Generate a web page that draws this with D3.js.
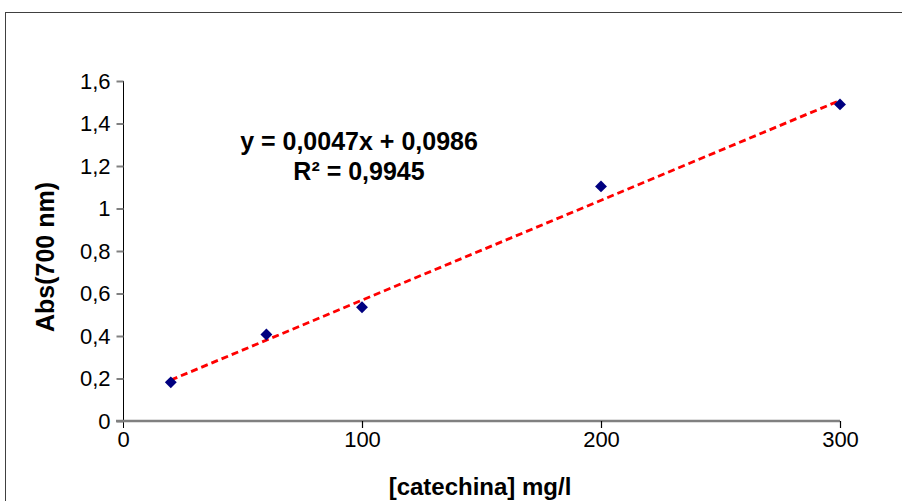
<!DOCTYPE html>
<html><head><meta charset="utf-8">
<script src="https://cdn.jsdelivr.net/npm/d3@7"></script>
<style>body{margin:0;background:#fff}svg{display:block}text{font-family:Arial,"Liberation Sans",sans-serif}</style>
</head><body>
<svg id="c" width="902" height="501"></svg>
<script>
const concentrations = [20, 60, 100, 200, 300];
const absorbances = [0.182, 0.407, 0.535, 1.104, 1.490];
const trendSlope = 0.0047;
const trendIntercept = 0.0986;
const trendRange = [20, 300];
const xTicks = [0, 100, 200, 300];
const yTicks = [0, 0.2, 0.4, 0.6, 0.8, 1, 1.2, 1.4, 1.6];
const equationLines = ["y = 0,0047x + 0,0986", "R² = 0,9945"];
const xTitle = "[catechina] mg/l";
const yTitle = "Abs(700 nm)";

const svg = d3.select("#c");
svg.append("rect").attr("x",5.5).attr("y",12.5).attr("width",1000).attr("height",600)
  .attr("fill","none").attr("stroke","#404040").attr("stroke-width",1);

const x = d3.scaleLinear().domain([0,300]).range([123,840]);
const y = d3.scaleLinear().domain([0,1.6]).range([421,81]);
const fmt = d => String(d).replace(".", ",");
const FF = "Arial, 'Liberation Sans', sans-serif";

// y axis
const ya = svg.append("g").attr("transform","translate(123.5,0)")
  .call(d3.axisLeft(y).tickValues(yTicks).tickSize(7).tickPadding(6).tickFormat(fmt));
ya.select(".domain").attr("stroke","#000").attr("d", `M0,${y(1.6)}V${y(0)+7}`);
ya.selectAll(".tick line").attr("stroke","#808080").attr("stroke-width",2);
ya.selectAll(".tick text").attr("font-size",22).attr("fill","#000").attr("font-family",FF);

// x axis
const xa = svg.append("g").attr("transform",`translate(0,${y(0)})`)
  .call(d3.axisBottom(x).tickValues(xTicks).tickSize(7).tickPadding(3).tickFormat(d=>String(d)));
xa.select(".domain").attr("stroke","#808080").attr("stroke-width",2.5).attr("d",`M116,0H${x(300)}`);
xa.selectAll(".tick line").attr("stroke","#000").attr("stroke-width",1.2);
xa.selectAll(".tick").filter(d=>d===0).select("line").remove();
xa.selectAll(".tick text").attr("font-size",22).attr("fill","#000").attr("font-family",FF);

// trend line
svg.append("line")
  .attr("x1", x(trendRange[0])).attr("y1", y(trendSlope*trendRange[0]+trendIntercept))
  .attr("x2", x(trendRange[1])).attr("y2", y(trendSlope*trendRange[1]+trendIntercept))
  .attr("stroke","#ff0000").attr("stroke-width",2.8).attr("stroke-dasharray","7,4");

// points
svg.selectAll("path.pt").data(concentrations.map((c,i)=>[c,absorbances[i]])).join("path")
  .attr("class","pt")
  .attr("d", d3.symbol(d3.symbolDiamond2 || d3.symbolDiamond, 90))
  .attr("transform", d=>`translate(${x(d[0])},${y(d[1])})`)
  .attr("fill","#000080");

// equation
svg.append("text").attr("x",359).attr("y",150).attr("text-anchor","middle")
  .attr("font-size",25).attr("font-weight","bold").text(equationLines[0]);
svg.append("text").attr("x",359).attr("y",180).attr("text-anchor","middle")
  .attr("font-size",25).attr("font-weight","bold").text(equationLines[1]);

// titles
svg.append("text").attr("x",480).attr("y",495).attr("text-anchor","middle")
  .attr("font-size",24).attr("font-weight","bold").text(xTitle);
svg.append("text").attr("transform","translate(54,257) rotate(-90)").attr("text-anchor","middle")
  .attr("font-size",25).attr("font-weight","bold").text(yTitle);
</script>
</body></html>
